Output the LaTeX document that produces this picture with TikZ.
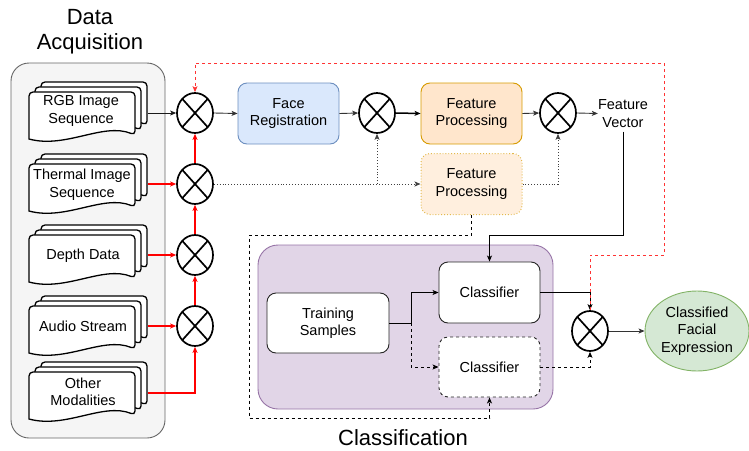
\documentclass[tikz,border=0pt]{standalone}
\usepackage{fontspec}
\setmainfont{Liberation Sans}
\usetikzlibrary{shapes.geometric,arrows.meta}
\definecolor{acqfill}{HTML}{F5F5F5}
\definecolor{acqline}{HTML}{666666}
\definecolor{clsfill}{HTML}{E1D5E7}
\definecolor{clsline}{HTML}{9673A6}
\definecolor{bluefill}{HTML}{DAE8FC}
\definecolor{blueline}{HTML}{6C8EBF}
\definecolor{orfill}{HTML}{FFE6CC}
\definecolor{orline}{HTML}{D79B00}
\definecolor{grfill}{HTML}{D5E8D4}
\definecolor{grline}{HTML}{82B366}
\definecolor{redline}{HTML}{FF0000}
\definecolor{reddash}{HTML}{FF3333}
\definecolor{conn}{HTML}{1A1A1A}
\tikzset{
  docline/.style={draw=black,fill=white,line width=1.3pt},
  mdoc/.pic={
    \draw[docline,rounded corners=4pt] (12,37) -- (12,-10) -- (118,-10) -- (118,33) [sharp corners] .. controls (86,20) and (49,47) .. (12,37) -- cycle;
    \draw[docline,rounded corners=4pt] (6,42) -- (6,-5) -- (112,-5) -- (112,38) [sharp corners] .. controls (80,25) and (43,52) .. (6,42) -- cycle;
    \draw[docline,rounded corners=4pt] (0,47) -- (0,0) -- (106,0) -- (106,43) [sharp corners] .. controls (74,30) and (37,57) .. (0,47) -- cycle;
  }
}
\begin{document}
\begin{tikzpicture}[x=1pt,y=-1pt,
  font=\fontsize{14.5}{17.5}\selectfont,
  doctext/.style={align=center,inner sep=0pt},
  title/.style={align=center,font=\fontsize{22}{25}\selectfont,inner sep=0pt},
  mult/.style={ellipse,draw,line width=1.7pt,minimum width=36pt,minimum height=40pt,inner sep=0pt,
    path picture={\draw[line width=1.7pt] (path picture bounding box.north west) -- (path picture bounding box.south east)
      (path picture bounding box.north east) -- (path picture bounding box.south west);}},
  box/.style={rectangle,rounded corners=9pt,draw,line width=0.9pt,align=center,minimum width=101pt,minimum height=61pt,inner sep=0pt},
  arr/.style={-{Stealth[length=6pt,width=5pt,inset=1.5pt]},line width=0.9pt},
  redarr/.style={arr,draw=redline,line width=1.1pt},
]
\useasboundingbox (0,0) rectangle (749,450);
% containers
\node[title] (acqt) at (90,32) {Data\\Acquisition};
\node[rectangle,rounded corners=18pt,draw=acqline,fill=acqfill,line width=0.9pt,minimum width=154pt,minimum height=375pt] (acq) at (88,250.5) {};
\node[rectangle,rounded corners=20pt,draw=clsline,fill=clsfill,line width=0.9pt,minimum width=295pt,minimum height=164pt] (cls) at (405.5,327) {};
\node[title] (clst) at (403,438) {Classification};
% documents
\pic at (29,92) {mdoc};
\pic at (29,164) {mdoc};
\pic at (29,235) {mdoc};
\pic at (29,306) {mdoc};
\pic at (29,372) {mdoc};
\node[doctext] (rgb) at (81,111) {RGB Image\\Sequence};
\node[doctext] (thm) at (82,184.5) {Thermal Image\\Sequence};
\node[doctext] (dep) at (83,256) {Depth Data};
\node[doctext] (aud) at (83,326) {Audio Stream};
\node[doctext] (oth) at (83,392) {Other\\Modalities};
\coordinate (rgbR) at (148,113);
\coordinate (thmR) at (148,184);
\coordinate (depR) at (148,255);
\coordinate (audR) at (148,326);
\coordinate (othR) at (148,393);
% multipliers
\node[mult] (m1) at (195,113) {};
\node[mult] (m2) at (195,184) {};
\node[mult] (m3) at (195,255) {};
\node[mult] (m4) at (195,326) {};
\node[mult] (m5) at (377,113) {};
\node[mult] (m6) at (558,113) {};
\node[mult] (m7) at (590,331) {};
% boxes
\node[box,fill=bluefill,draw=blueline] (fr) at (288.5,113.5) {Face\\Registration};
\node[box,fill=orfill,draw=orline] (fp1) at (471.5,113.5) {Feature\\Processing};
\node[box,fill=orfill!65,draw=orline!70,dotted,line width=1pt] (fp2) at (471.5,184) {Feature\\Processing};
\node[doctext] (fv) at (623,113.5) {Feature\\Vector};
\node[box,fill=white,draw=black!85,minimum width=122pt,minimum height=60pt] (ts) at (328,323) {Training\\Samples};
\node[box,fill=white,draw=black!85] (c1) at (489.5,292.5) {Classifier};
\node[box,fill=white,draw=black!85,dashed,minimum height=60pt] (c2) at (489.5,367) {Classifier};
\node[ellipse,draw=grline,fill=grfill,line width=0.9pt,minimum width=104pt,minimum height=80pt,inner sep=0pt,align=center] (ce) at (697,331) {Classified\\Facial\\Expression};
% acquisition arrows
\draw[arr,draw=conn] (rgbR) -- (m1);
\draw[redarr] (thmR) -- (m2);
\draw[redarr] (depR) -- (m3);
\draw[redarr] (audR) -- (m4);
\draw[redarr] (othR) -| (m4.south);
\draw[redarr] (m4.north) -- (m3.south);
\draw[redarr] (m3.north) -- (m2.south);
\draw[redarr] (m2.north) -- (m1.south);
% main chain
\draw[arr,draw=black!80] (m1.east) -- (fr.west);
\draw[arr,draw=black!80] (fr.east) -- (m5.west);
\draw[arr,line width=1.5pt] (m5.east) -- (fp1.west);
\draw[arr,draw=black!80] (fp1.east) -- (m6.west);
\draw[arr,draw=black!80] (m6.east) -- (fv.west);
% dotted branch
\draw[arr,dotted,draw=black!75] (m2.east) -- (fp2.west);
\draw[arr,dotted,draw=black!75] (m5.south |- fp2.west) -- (m5.south);
\draw[arr,dotted,draw=black!75] (fp2.east) -| (m6.south);
% dashed from fp2 to classifier 2
\coordinate (d1) at (471.5,235);
\coordinate (d2) at (249,235);
\coordinate (d3) at (249,418);
\draw[arr,dashed] (fp2.south) -- (d1) -- (d2) -- (d3) -| (c2.south);
% feature vector to classifier 1
\coordinate (k1) at (623,235);
\draw[arr] ([yshift=-4pt]fv.south) -- (k1) -| (c1.north);
% training
\coordinate (t1) at (411,323);
\draw[arr] (ts.east) -- (t1) |- (c1.west);
\draw[arr,dashed] (t1) |- (c2.west);
% classifiers to m7
\draw[arr] (c1.east) -| (m7.north);
\draw[arr,dashed] (c2.east) -| (m7.south);
% red dashed feedback
\coordinate (r4) at (590,255);
\coordinate (r3) at (664,255);
\coordinate (r2) at (664,63);
\coordinate (r1) at (195,63);
\draw[arr,dashed,draw=reddash] (m7.north) -- (r4) -- (r3) -- (r2) -- (r1) -- (m1.north);
% output
\draw[arr,draw=black!80] (m7.east) -- (ce.west);
\end{tikzpicture}
\end{document}
